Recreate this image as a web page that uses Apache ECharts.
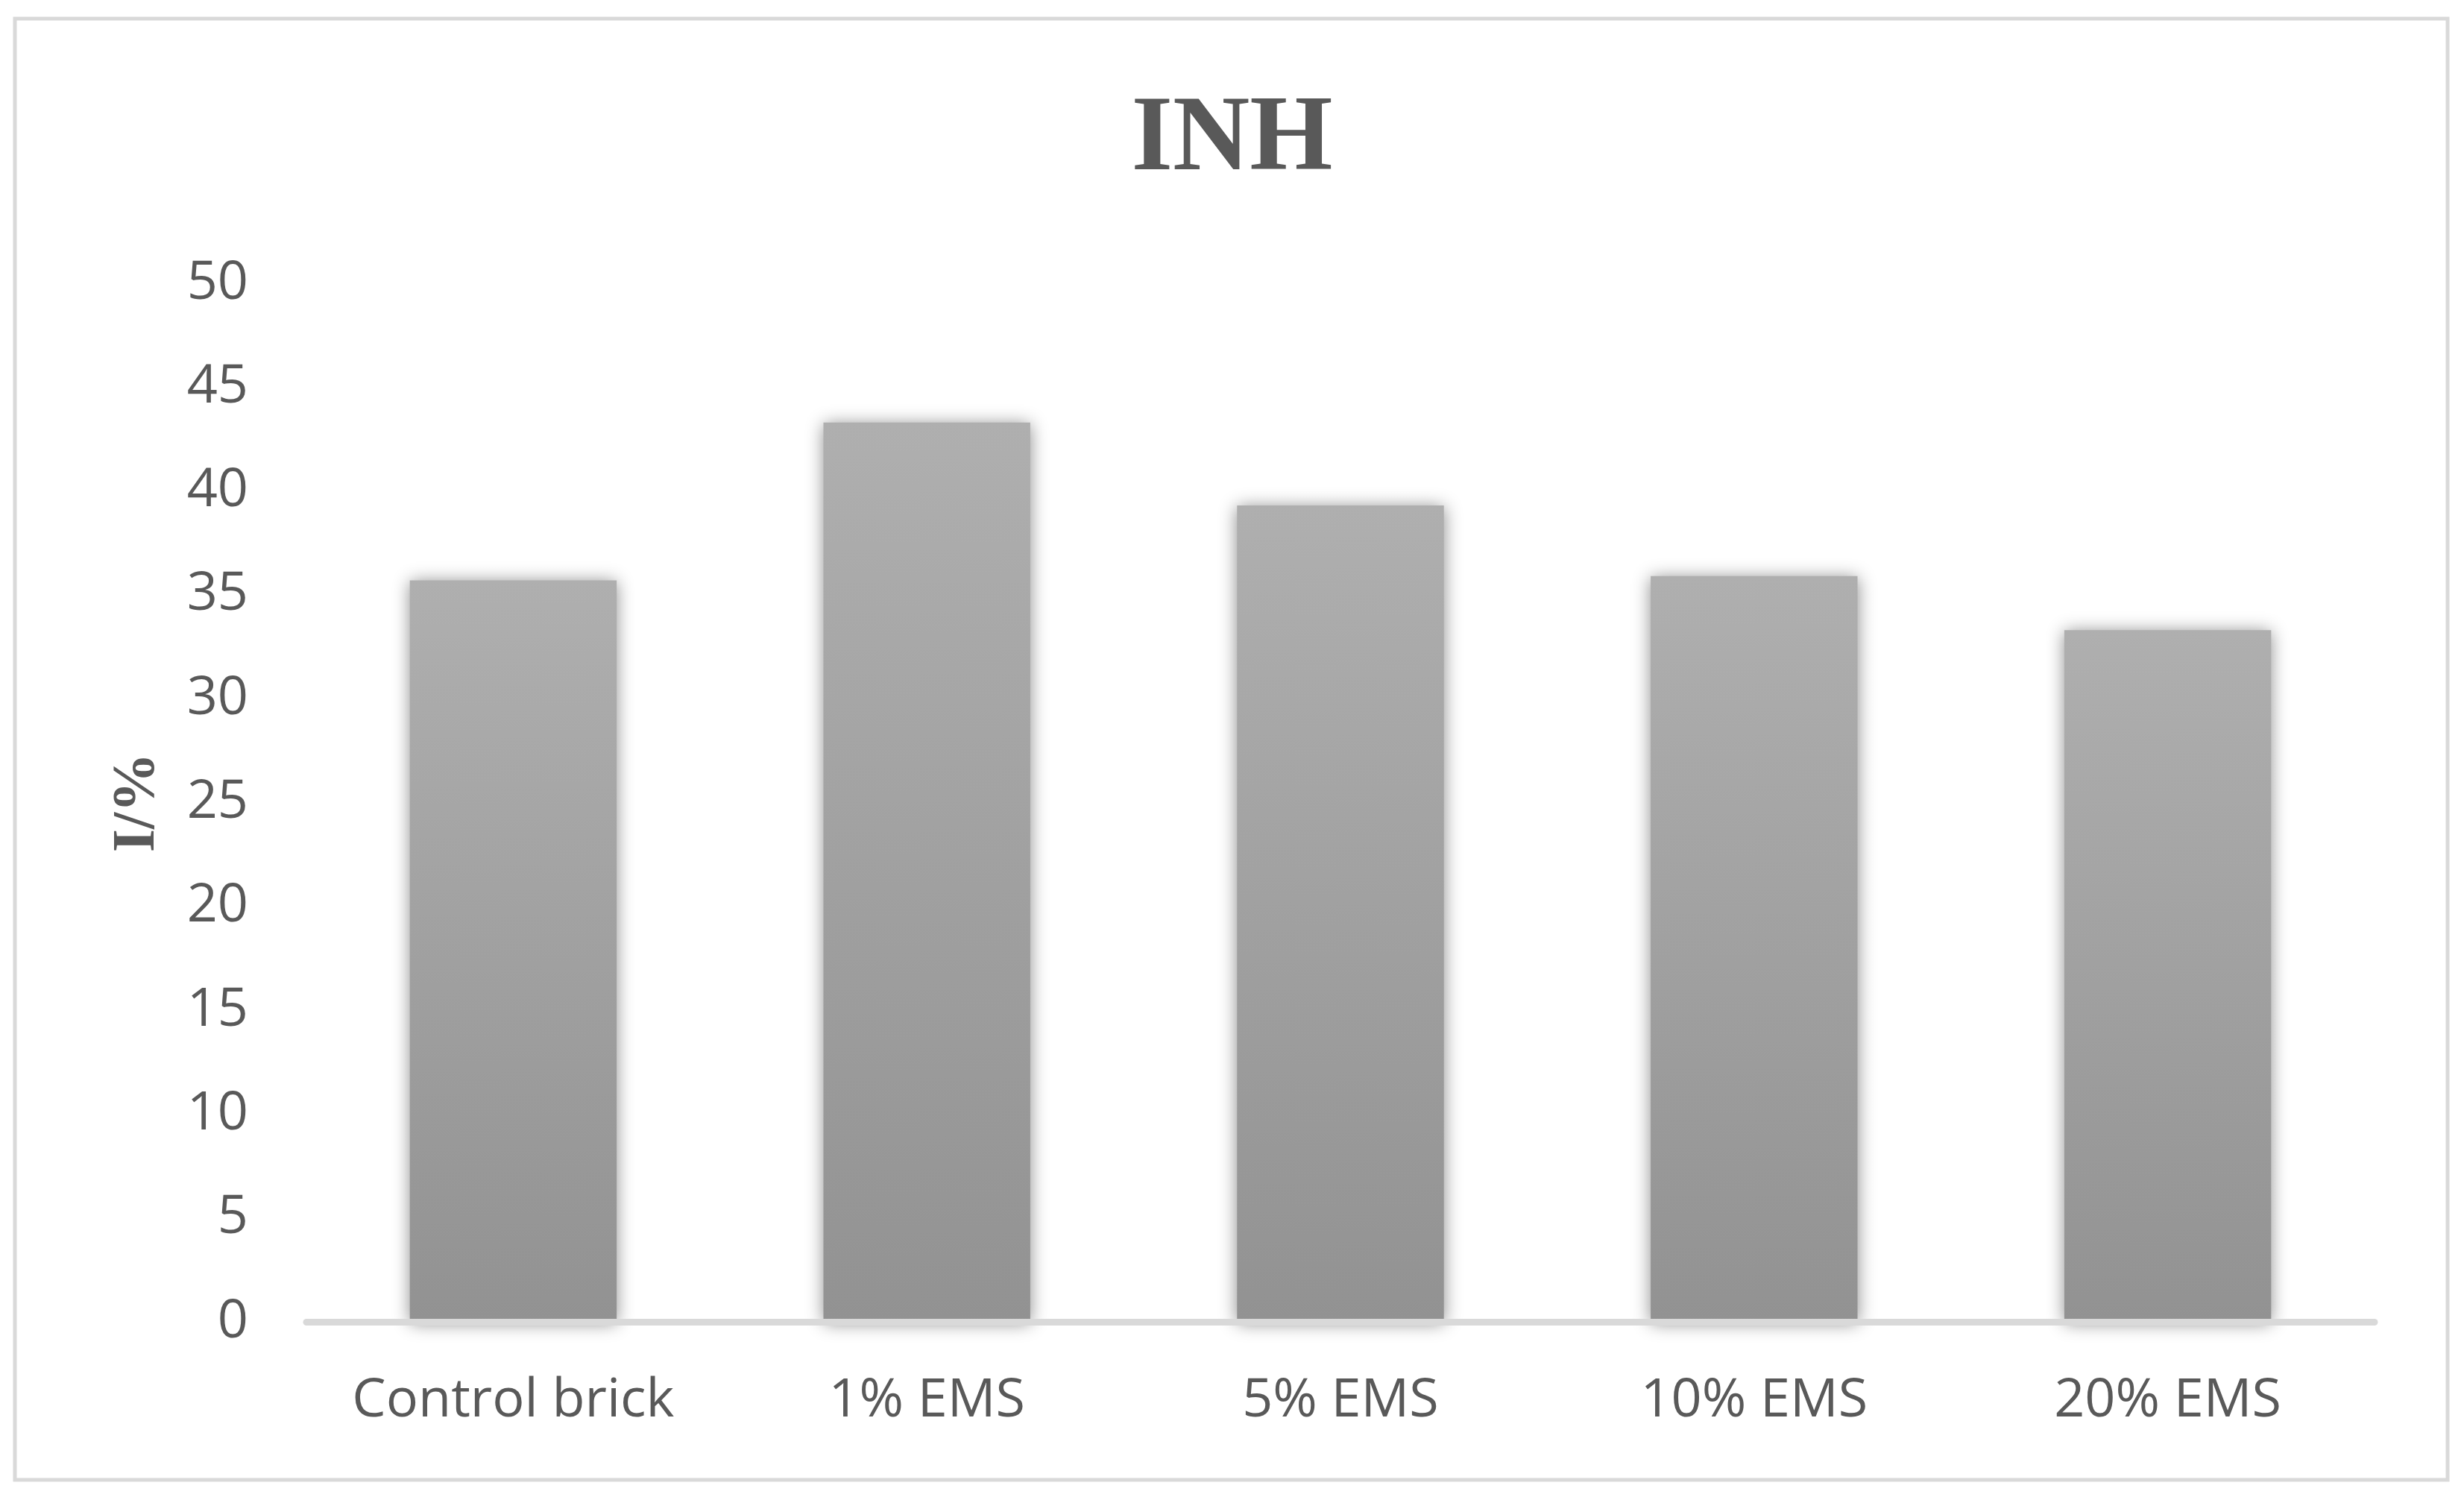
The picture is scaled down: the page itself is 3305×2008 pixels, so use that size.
<!DOCTYPE html>
<html>
<head>
<meta charset="utf-8">
<script src="https://cdn.jsdelivr.net/npm/echarts@6/dist/echarts.min.js"></script>
<style>
html,body{margin:0;padding:0;background:#fff;}
#chart{width:3305px;height:2008px;}
</style>
</head>
<body>
<div id="chart"></div>
<script>
var titleText = 'INH';
var yAxisName = 'I/%';
var categories = ['Control brick', '1% EMS', '5% EMS', '10% EMS', '20% EMS'];
var values = [35.7, 43.3, 39.3, 35.9, 33.3];
var yMin = 0, yMax = 50, yInterval = 5;

var chart = echarts.init(document.getElementById('chart'), null, {renderer: 'canvas'});
chart.setOption({
  backgroundColor: '#ffffff',
  animation: false,
  graphic: [{
    type: 'rect',
    z: 100,
    shape: {x: 20, y: 25, width: 3263, height: 1960},
    style: {fill: 'none', stroke: '#d9d9d9', lineWidth: 5}
  }],
  title: {
    text: titleText,
    left: 'center',
    top: 114,
    textStyle: {fontFamily: 'Liberation Serif', fontWeight: 'bold', fontSize: 143, color: '#595959'}
  },
  grid: {left: 411, right: 120, top: 380, bottom: 235, containLabel: false},
  xAxis: {
    type: 'category',
    data: categories,
    z: 5,
    axisLine: {show: true, lineStyle: {color: '#d9d9d9', width: 9}},
    axisTick: {show: false},
    axisLabel: {interval: 0, margin: 70, fontFamily: 'Open Sans', fontSize: 72, color: '#595959'},
    splitLine: {show: false}
  },
  yAxis: {
    type: 'value',
    min: yMin, max: yMax, interval: yInterval,
    name: yAxisName,
    nameLocation: 'middle',
    nameRotate: 90,
    nameGap: 186,
    nameTextStyle: {fontFamily: 'Liberation Serif', fontWeight: 'bold', fontSize: 80, color: '#595959'},
    axisLine: {show: false},
    axisTick: {show: false},
    splitLine: {show: false},
    axisLabel: {margin: 78, fontFamily: 'Open Sans', fontSize: 72, color: '#595959'}
  },
  series: [{
    type: 'bar',
    data: values,
    barWidth: '50%',
    itemStyle: {
      color: new echarts.graphic.LinearGradient(0, 0, 0, 1, [
        {offset: 0, color: '#afafaf'},
        {offset: 1, color: '#929292'}
      ]),
      shadowBlur: 22,
      shadowColor: 'rgba(0,0,0,0.45)',
      shadowOffsetX: 0,
      shadowOffsetY: 2
    }
  }]
});
</script>
</body>
</html>
